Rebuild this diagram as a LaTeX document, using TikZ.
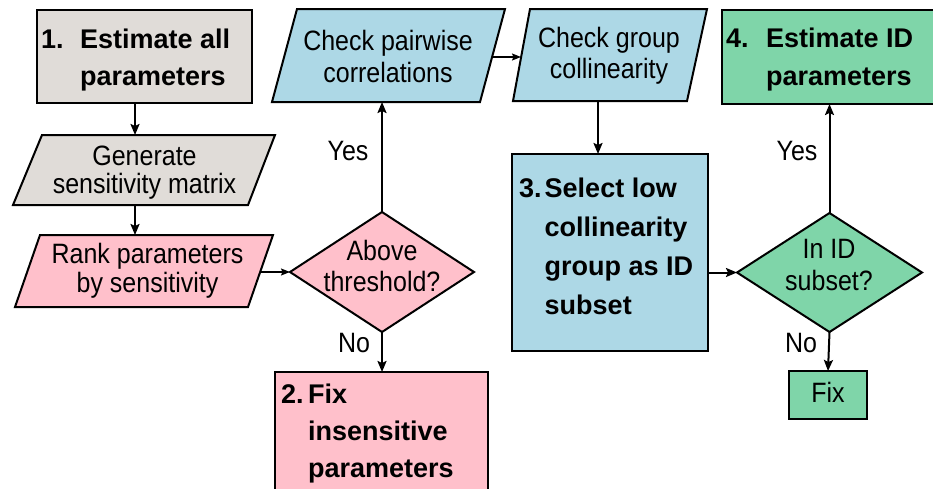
\documentclass[tikz,border=0pt]{standalone}
\usepackage{fontspec}
\setmainfont{Liberation Sans}
\usetikzlibrary{arrows.meta,shapes.geometric}
\definecolor{grayc}{HTML}{E0DCD8}
\definecolor{pinkc}{HTML}{FFC0CB}
\definecolor{bluec}{HTML}{ADD8E6}
\definecolor{greenc}{HTML}{7FD5A9}
\newcommand\nt[2]{\fontsize{25}{#1}\selectfont\scalebox{1}[1.12]{\begin{tabular}[t]{@{}c@{}}#2\end{tabular}}}
\newcommand\bt[3]{\fontsize{27}{#1}\selectfont\bfseries\begin{tabular}[t]{@{}l@{\hspace{#2}}l@{}}#3\end{tabular}}
\newcommand\lt[1]{\fontsize{25}{28}\selectfont\scalebox{1}[1.12]{#1}}
\tikzset{
  shp/.style={draw=black, line width=2pt, inner sep=0pt, outer sep=0pt},
  rectbox/.style={shp, rectangle},
  dia/.style={shp, diamond},
  para/.style={draw=black, line width=2pt, line join=miter},
  txt/.style={anchor=base, inner sep=0pt, outer sep=0pt},
  txtl/.style={anchor=base west, inner sep=0pt, outer sep=0pt},
  lbl/.style={anchor=base, inner sep=0pt},
  arr/.style={line width=2pt, -{Stealth[length=11pt,width=9pt,inset=2pt]}},
  thinarr/.style={line width=1.2pt, -{Stealth[length=9pt,width=7pt,inset=1.5pt]}}
}
\begin{document}
\begin{tikzpicture}[x=1pt,y=-1pt]
\useasboundingbox (0,0) rectangle (933,488);
\clip (0,0) rectangle (933,488);

% shapes
\node[rectbox, fill=grayc, minimum width=215pt, minimum height=93pt] (b1) at (144.5,56.5) {};
\draw[para, fill=grayc] (42,135) -- (275,135) -- (248,205) -- (13,205) -- cycle;
\draw[para, fill=pinkc] (40,235) -- (273,235) -- (248,307) -- (15,307) -- cycle;
\node[dia, fill=pinkc, minimum width=184pt, minimum height=120pt] (d1) at (382,272) {};
\node[rectbox, fill=pinkc, minimum width=213pt, minimum height=130pt] (b2) at (381.5,437) {};
\draw[para, fill=bluec] (297,9) -- (505,9) -- (480,102) -- (272,102) -- cycle;
\draw[para, fill=bluec] (530,9) -- (707,9) -- (687,101) -- (513,101) -- cycle;
\node[rectbox, fill=bluec, minimum width=196pt, minimum height=197pt] (b3) at (610,252.5) {};
\node[dia, fill=greenc, minimum width=185pt, minimum height=119pt] (d2) at (829.5,272.5) {};
\node[rectbox, fill=greenc, minimum width=223pt, minimum height=94pt] (b4) at (833.5,57) {};
\node[rectbox, fill=greenc, minimum width=78pt, minimum height=48pt] (fix) at (828,395) {};

% connector coordinates on the parallelograms
\coordinate (genN) at (135,135);
\coordinate (genS) at (135,205);
\coordinate (rankN) at (135,235);
\coordinate (rankE) at (261,272);
\coordinate (cpS) at (382,102);
\coordinate (cpE) at (492,57);
\coordinate (cgW) at (521,57);
\coordinate (cgS) at (598,101);

% texts
\node[txtl] (t1) at (41,48) {\bt{37}{16.5pt}{1.&Estimate all\\&parameters}};
\node[txt] (tgen) at (144.5,165) {\nt{25}{Generate\\sensitivity matrix}};
\node[txt] (trank) at (147.5,263) {\nt{25.9}{Rank parameters\\by sensitivity}};
\node[txt] (td1) at (382,260) {\nt{27.7}{Above\\threshold?}};
\node[txtl] (t2) at (281,403) {\bt{37}{4.5pt}{2.&Fix\\&insensitive\\&parameters}};
\node[txt] (tcp) at (388,50) {\nt{28.6}{Check pairwise\\correlations}};
\node[txt] (tcg) at (609,47) {\nt{27.7}{Check group\\collinearity}};
\node[txtl] (t3) at (519,197) {\bt{39}{3.2pt}{3.&Select low\\&collinearity\\&group as ID\\&subset}};
\node[txt] (td2) at (829,258) {\nt{28.6}{In ID\\subset?}};
\node[txtl] (t4) at (726,47) {\bt{38}{17.5pt}{4.&Estimate ID\\&parameters}};
\node[txt] (tfix) at (828,402) {\lt{Fix}};

% connectors
\draw[arr] (b1.south -| genN) -- (genN);
\draw[arr] (genS) -- (rankN);
\draw[thinarr] (rankE) -- (d1.west);
\draw[arr] (d1.north) -- (cpS);
\draw[arr] (d1.south) -- (d1.south |- b2.north);
\draw[thinarr] (cpE) -- (cgW);
\draw[arr] (cgS) -- (cgS |- b3.north);
\draw[arr] (b3.east |- d2.west) -- (d2.west);
\draw[arr] (d2.north) -- (d2.north |- b4.south);
\draw[arr] (d2.south) -- (fix.north);

% labels
\node[lbl] (yes1) at (348,160) {\lt{Yes}};
\node[lbl] (no1) at (354,352) {\lt{No}};
\node[lbl] (yes2) at (797,160) {\lt{Yes}};
\node[lbl] (no2) at (801,352) {\lt{No}};
\end{tikzpicture}
\end{document}
